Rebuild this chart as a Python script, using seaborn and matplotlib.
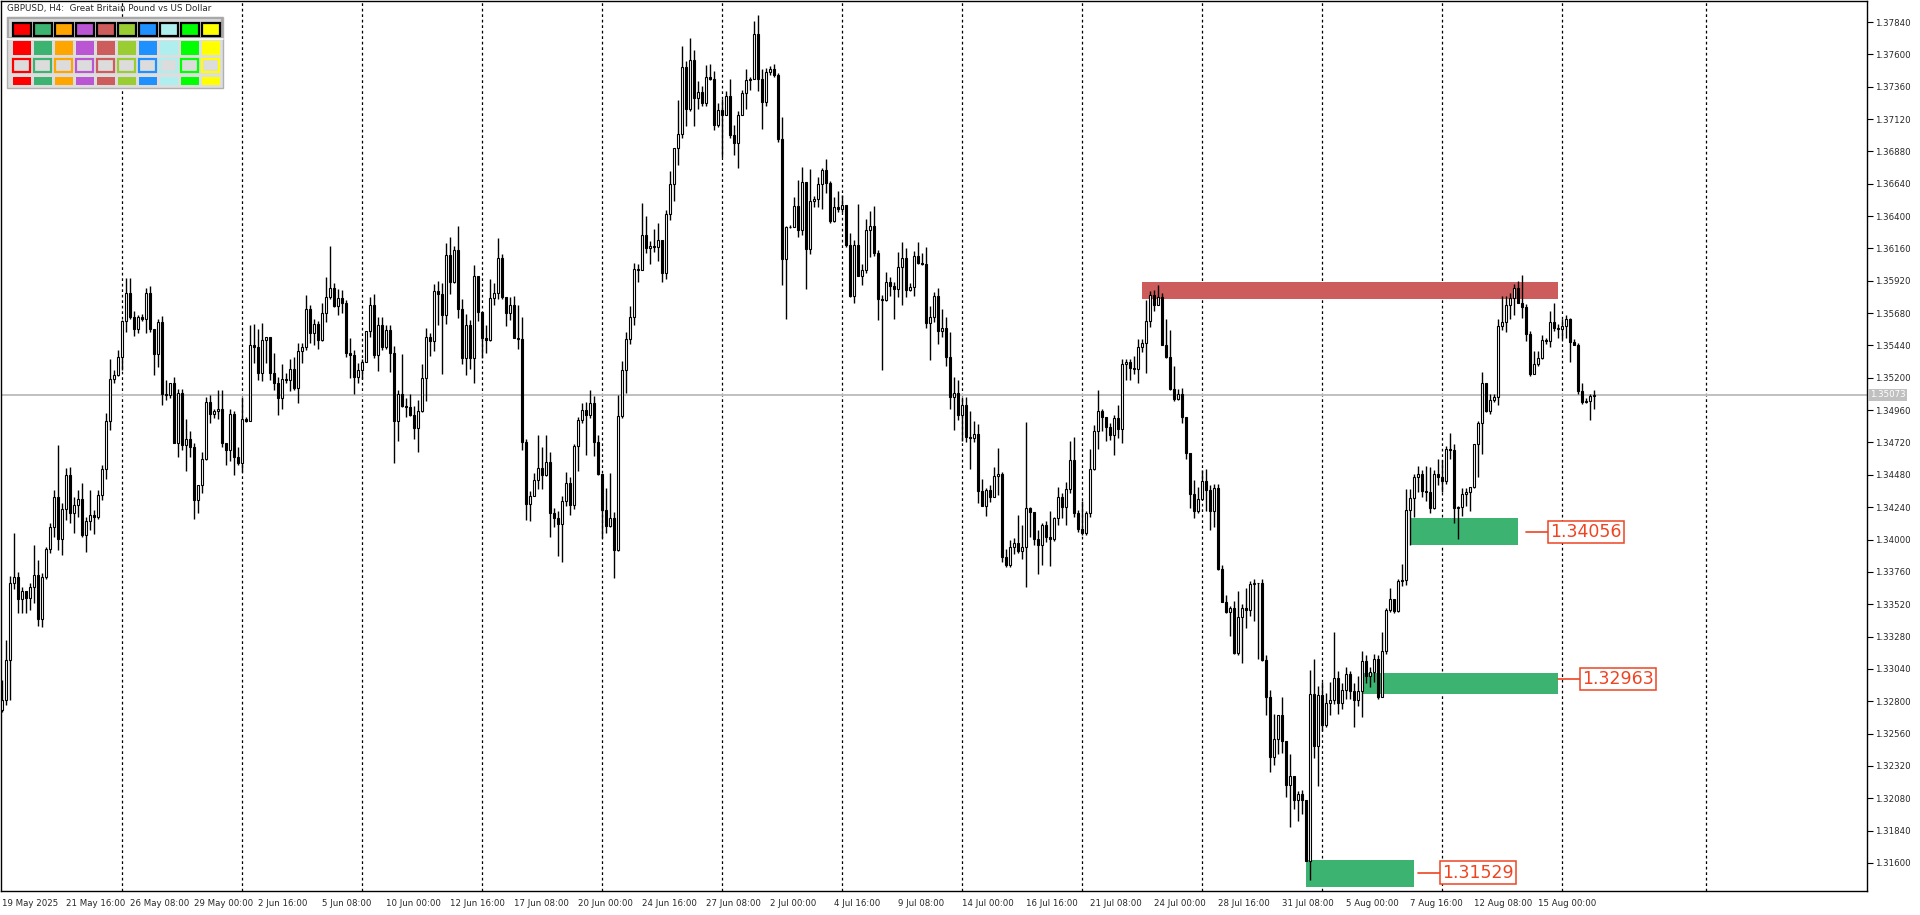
import matplotlib
matplotlib.use('Agg')
import matplotlib.pyplot as plt
from matplotlib.patches import Rectangle
import matplotlib.transforms as mtransforms
import numpy as np
import seaborn as sns

# GBPUSD H4 candles (index 0 = 19 May 2025 00:00)
first_open = 1.32735
closes = [
    1.32809, 1.33106, 1.33677, 1.33722, 1.33558, 1.33618, 1.33566, 1.33647, 1.33736, 1.33410,
    1.33722, 1.33929, 1.34093, 1.34315, 1.34004, 1.34226, 1.34478, 1.34197, 1.34256, 1.34300,
    1.34033, 1.34137, 1.34182, 1.34167, 1.34330, 1.34523, 1.34879, 1.35191, 1.35220, 1.35354,
    1.35621, 1.35829, 1.35651, 1.35562, 1.35651, 1.35636, 1.35829, 1.35562, 1.35376, 1.35614,
    1.35080, 1.35072, 1.35161, 1.34716, 1.35087, 1.34701, 1.34746, 1.34686, 1.34293, 1.34404,
    1.34597, 1.35020, 1.34931, 1.34953, 1.34968, 1.34716, 1.34664, 1.34931, 1.34612, 1.34568,
    1.34894, 1.34880, 1.35443, 1.35428, 1.35235, 1.35480, 1.35500, 1.35235, 1.35161, 1.35050,
    1.35191, 1.35183, 1.35265, 1.35124, 1.35399, 1.35428, 1.35710, 1.35532, 1.35599, 1.35480,
    1.35681, 1.35799, 1.35866, 1.35732, 1.35792, 1.35755, 1.35384, 1.35369, 1.35206, 1.35258,
    1.35317, 1.35547, 1.35740, 1.35369, 1.35591, 1.35428, 1.35554, 1.35384, 1.34879, 1.35080,
    1.34990, 1.34985, 1.34924, 1.34827, 1.34953, 1.35198, 1.35502, 1.35473, 1.35844, 1.35822,
    1.35666, 1.36111, 1.35911, 1.36148, 1.35710, 1.35347, 1.35591, 1.35347, 1.35955, 1.35688,
    1.35495, 1.35480, 1.35792, 1.35829, 1.36089, 1.35799, 1.35681, 1.35740, 1.35495, 1.35488,
    1.34723, 1.34263, 1.34323, 1.34441, 1.34530, 1.34478, 1.34575, 1.34197, 1.34159, 1.34115,
    1.34286, 1.34419, 1.34256, 1.34694, 1.34887, 1.34961, 1.34924, 1.35013, 1.34723, 1.34486,
    1.34219, 1.34100, 1.34159, 1.33922, 1.34916, 1.35258, 1.35488, 1.35651, 1.36007, 1.36000,
    1.36259, 1.36163, 1.36178, 1.36170, 1.36222, 1.35977, 1.36415, 1.36638, 1.36905, 1.37009,
    1.37506, 1.37194, 1.37558, 1.37276, 1.37320, 1.37239, 1.37432, 1.37417, 1.37075, 1.37187,
    1.37150, 1.37291, 1.37001, 1.36942, 1.37150, 1.37313, 1.37409, 1.37417, 1.37751, 1.37417,
    1.37246, 1.37469, 1.37491, 1.37446, 1.36972, 1.36081, 1.36319, 1.36319, 1.36474, 1.36296,
    1.36653, 1.36155, 1.36512, 1.36526, 1.36638, 1.36742, 1.36645, 1.36363, 1.36467, 1.36452,
    1.36482, 1.36185, 1.35807, 1.36185, 1.35955, 1.36000, 1.36296, 1.36326, 1.36126, 1.35784,
    1.35780, 1.35911, 1.35881, 1.35859, 1.36022, 1.36089, 1.35851, 1.35873, 1.36103, 1.36052,
    1.36045, 1.35606, 1.35651, 1.35807, 1.35547, 1.35569, 1.35354, 1.35057, 1.35087, 1.34924,
    1.34998, 1.34760, 1.34755, 1.34783, 1.34360, 1.34248, 1.34367, 1.34315, 1.34471, 1.34486,
    1.33870, 1.33811, 1.33944, 1.33974, 1.33915, 1.33944, 1.34234, 1.34204, 1.34004, 1.33959,
    1.34107, 1.34018, 1.34004, 1.34159, 1.34315, 1.34241, 1.34375, 1.34590, 1.34197, 1.34078,
    1.34048, 1.34197, 1.34523, 1.34805, 1.34953, 1.34909, 1.34835, 1.34775, 1.34901, 1.34820,
    1.35302, 1.35317, 1.35272, 1.35265, 1.35428, 1.35458, 1.35621, 1.35814, 1.35740, 1.35799,
    1.35443, 1.35354, 1.35117, 1.35042, 1.35080, 1.34909, 1.34642, 1.34338, 1.34211, 1.34300,
    1.34434, 1.34367, 1.34211, 1.34382, 1.33781, 1.33536, 1.33462, 1.33492, 1.33158, 1.33425,
    1.33492, 1.33477, 1.33670, 1.33675, 1.33677, 1.33106, 1.32831, 1.32386, 1.32520, 1.32698,
    1.32505, 1.32178, 1.32245, 1.32067, 1.32112, 1.32067, 1.31614, 1.32854, 1.32468, 1.32846,
    1.32623, 1.32787, 1.32809, 1.32972, 1.32787, 1.32883, 1.33002, 1.32876, 1.32809, 1.32876,
    1.33098, 1.32987, 1.33017, 1.33113, 1.32831, 1.33173, 1.33477, 1.33558, 1.33469, 1.33692,
    1.33699, 1.34219, 1.34308, 1.34464, 1.34486, 1.34360, 1.34352, 1.34234, 1.34486, 1.34464,
    1.34434, 1.34671, 1.34664, 1.34234, 1.34241, 1.34338, 1.34352, 1.34389, 1.34709, 1.34864,
    1.35161, 1.34953, 1.35035, 1.35057, 1.35584, 1.35614, 1.35740, 1.35792, 1.35866, 1.35755,
    1.35725, 1.35525, 1.35228, 1.35302, 1.35347, 1.35480, 1.35473, 1.35614, 1.35569, 1.35562,
    1.35584, 1.35636, 1.35465, 1.35443, 1.35102, 1.35020, 1.35028, 1.35065, 1.35073,
]
highs = [
    1.32957, 1.33254, 1.33729, 1.34048, 1.33759, 1.33647, 1.33618, 1.33677, 1.33959, 1.33848,
    1.33751, 1.33944, 1.34122, 1.34367, 1.34701, 1.34271, 1.34530, 1.34538, 1.34315, 1.34367,
    1.34419, 1.34167, 1.34367, 1.34219, 1.34367, 1.34553, 1.34939, 1.35339, 1.35258, 1.35406,
    1.35629, 1.35940, 1.35940, 1.35695, 1.35666, 1.35673, 1.35866, 1.35881, 1.35562, 1.35636,
    1.35658, 1.35183, 1.35161, 1.35206, 1.35117, 1.35117, 1.34894, 1.34805, 1.34716, 1.34404,
    1.34649, 1.35057, 1.35072, 1.34968, 1.35109, 1.35109, 1.34716, 1.34968, 1.34953, 1.34686,
    1.35057, 1.34909, 1.35591, 1.35599, 1.35562, 1.35606, 1.35502, 1.35502, 1.35384, 1.35206,
    1.35302, 1.35235, 1.35339, 1.35354, 1.35458, 1.35458, 1.35814, 1.35740, 1.35636, 1.35621,
    1.35755, 1.35948, 1.36178, 1.35903, 1.35859, 1.35851, 1.35777, 1.35495, 1.35406, 1.35310,
    1.35339, 1.35547, 1.35799, 1.35822, 1.35651, 1.35651, 1.35591, 1.35591, 1.35436, 1.35109,
    1.35376, 1.35050, 1.35080, 1.34990, 1.35035, 1.35302, 1.35569, 1.35532, 1.35896, 1.35918,
    1.35903, 1.36200, 1.36244, 1.36178, 1.36326, 1.35784, 1.35673, 1.35629, 1.36037, 1.35955,
    1.35643, 1.35591, 1.35933, 1.35903, 1.36237, 1.36118, 1.35799, 1.35799, 1.35807, 1.35740,
    1.35651, 1.34746, 1.34360, 1.34493, 1.34775, 1.34686, 1.34775, 1.34649, 1.34234, 1.34211,
    1.34323, 1.34501, 1.34464, 1.34709, 1.34909, 1.35013, 1.35020, 1.35109, 1.35065, 1.34775,
    1.34338, 1.34382, 1.34493, 1.34204, 1.35072, 1.35324, 1.35540, 1.35732, 1.36052, 1.36044,
    1.36497, 1.36400, 1.36215, 1.36304, 1.36348, 1.36222, 1.36445, 1.36734, 1.36905, 1.37261,
    1.37662, 1.37550, 1.37721, 1.37632, 1.37402, 1.37365, 1.37521, 1.37528, 1.37476, 1.37239,
    1.37268, 1.37328, 1.37417, 1.37075, 1.37179, 1.37335, 1.37491, 1.37432, 1.37847, 1.37892,
    1.37491, 1.37498, 1.37513, 1.37528, 1.37461, 1.37135, 1.36326, 1.36333, 1.36541, 1.36667,
    1.36764, 1.36653, 1.36749, 1.36549, 1.36690, 1.36756, 1.36823, 1.36660, 1.36541, 1.36586,
    1.36556, 1.36482, 1.36274, 1.36222, 1.36489, 1.36044, 1.36378, 1.36437, 1.36474, 1.36148,
    1.35814, 1.35985, 1.35948, 1.35911, 1.36133, 1.36207, 1.36163, 1.35903, 1.36141, 1.36207,
    1.36126, 1.36170, 1.35732, 1.35836, 1.35866, 1.35710, 1.35651, 1.35540, 1.35206, 1.35183,
    1.35057, 1.35057, 1.34953, 1.34879, 1.34857, 1.34449, 1.34382, 1.34404, 1.34538, 1.34679,
    1.34501, 1.33929, 1.33996, 1.34011, 1.34182, 1.34107, 1.34872, 1.34241, 1.34182, 1.34070,
    1.34122, 1.34137, 1.34211, 1.34167, 1.34389, 1.34345, 1.34427, 1.34731, 1.34760, 1.34219,
    1.34286, 1.34211, 1.34671, 1.34849, 1.35109, 1.34968, 1.34849, 1.34864, 1.34924, 1.34998,
    1.35339, 1.35339, 1.35339, 1.35361, 1.35488, 1.35488, 1.35777, 1.35844, 1.35851, 1.35888,
    1.35829, 1.35636, 1.35554, 1.35287, 1.35117, 1.35124, 1.34909, 1.34642, 1.34441, 1.34389,
    1.34516, 1.34523, 1.34404, 1.34412, 1.34412, 1.33811, 1.33588, 1.33506, 1.33544, 1.33618,
    1.33521, 1.33640, 1.33692, 1.33707, 1.33618, 1.33707, 1.33143, 1.32883, 1.32705, 1.32698,
    1.32831, 1.32505, 1.32408, 1.32245, 1.32134, 1.32141, 1.32008, 1.33032, 1.33113, 1.32913,
    1.32943, 1.32861, 1.32943, 1.33314, 1.33024, 1.32935, 1.33054, 1.33024, 1.32935, 1.32987,
    1.33173, 1.33143, 1.33054, 1.33150, 1.33143, 1.33314, 1.33492, 1.33640, 1.33551, 1.33707,
    1.33818, 1.34375, 1.34375, 1.34486, 1.34545, 1.34516, 1.34545, 1.34538, 1.34516, 1.34597,
    1.34590, 1.34694, 1.34790, 1.34709, 1.34248, 1.34382, 1.34382, 1.34389, 1.34709, 1.34879,
    1.35243, 1.35161, 1.35080, 1.35080, 1.35636, 1.35807, 1.35807, 1.35829, 1.35896, 1.35918,
    1.35962, 1.35747, 1.35547, 1.35399, 1.35399, 1.35517, 1.35495, 1.35695, 1.35755, 1.35599,
    1.35636, 1.35666, 1.35643, 1.35488, 1.35458, 1.35161, 1.35050, 1.35080, 1.35109,
]
lows = [
    1.32720, 1.32772, 1.32809, 1.33633, 1.33455, 1.33455, 1.33455, 1.33477, 1.33529, 1.33358,
    1.33351, 1.33707, 1.33900, 1.34018, 1.33922, 1.33885, 1.34145, 1.34122, 1.34048, 1.34167,
    1.34018, 1.33907, 1.34070, 1.34041, 1.34152, 1.34293, 1.34449, 1.34812, 1.35161, 1.35213,
    1.35258, 1.35540, 1.35636, 1.35510, 1.35532, 1.35621, 1.35532, 1.35540, 1.35220, 1.35280,
    1.34998, 1.35035, 1.35050, 1.34716, 1.34612, 1.34664, 1.34508, 1.34612, 1.34152, 1.34197,
    1.34345, 1.34590, 1.34864, 1.34901, 1.34894, 1.34686, 1.34553, 1.34582, 1.34478, 1.34553,
    1.34501, 1.34872, 1.34879, 1.35310, 1.35183, 1.35176, 1.35310, 1.35183, 1.35109, 1.34924,
    1.34968, 1.35161, 1.35102, 1.35109, 1.35013, 1.35310, 1.35406, 1.35458, 1.35443, 1.35413,
    1.35473, 1.35614, 1.35784, 1.35725, 1.35666, 1.35681, 1.35354, 1.35198, 1.35080, 1.35161,
    1.35191, 1.35317, 1.35502, 1.35347, 1.35250, 1.35406, 1.35413, 1.35243, 1.34568, 1.34731,
    1.34983, 1.34909, 1.34916, 1.34746, 1.34649, 1.34946, 1.35028, 1.35361, 1.35399, 1.35591,
    1.35228, 1.35599, 1.35822, 1.35903, 1.35643, 1.35302, 1.35220, 1.35265, 1.35161, 1.35621,
    1.35347, 1.35384, 1.35473, 1.35740, 1.35784, 1.35784, 1.35584, 1.35629, 1.35495, 1.35413,
    1.34664, 1.34145, 1.34137, 1.34323, 1.34375, 1.34375, 1.34471, 1.34018, 1.34093, 1.33877,
    1.33833, 1.34248, 1.34182, 1.34226, 1.34508, 1.34864, 1.34627, 1.34901, 1.34619, 1.34478,
    1.34011, 1.34048, 1.34093, 1.33714, 1.33915, 1.34901, 1.35087, 1.35451, 1.35591, 1.35911,
    1.36000, 1.36126, 1.36044, 1.36133, 1.36066, 1.35911, 1.35933, 1.36371, 1.36512, 1.36779,
    1.36979, 1.37068, 1.37179, 1.37068, 1.37194, 1.37216, 1.37216, 1.37409, 1.37038, 1.37061,
    1.36838, 1.37150, 1.36979, 1.36853, 1.36756, 1.37150, 1.37194, 1.37335, 1.37417, 1.37328,
    1.37046, 1.37216, 1.37446, 1.37432, 1.36949, 1.35888, 1.35636, 1.36311, 1.36348, 1.36244,
    1.36259, 1.35859, 1.36118, 1.36467, 1.36467, 1.36452, 1.36571, 1.36348, 1.36356, 1.36430,
    1.36430, 1.36170, 1.35799, 1.35755, 1.35955, 1.35888, 1.35977, 1.36096, 1.36103, 1.35629,
    1.35258, 1.35770, 1.35807, 1.35636, 1.35799, 1.35740, 1.35799, 1.35844, 1.35807, 1.36044,
    1.36037, 1.35569, 1.35332, 1.35614, 1.35451, 1.35502, 1.35287, 1.34968, 1.34812, 1.34887,
    1.34731, 1.34723, 1.34523, 1.34723, 1.34271, 1.34248, 1.34174, 1.34278, 1.34315, 1.34330,
    1.33833, 1.33796, 1.33796, 1.33892, 1.33900, 1.33855, 1.33647, 1.34018, 1.33959, 1.33744,
    1.33811, 1.33981, 1.33803, 1.33989, 1.34107, 1.34159, 1.34107, 1.34345, 1.34167, 1.34056,
    1.34033, 1.34033, 1.34167, 1.34516, 1.34671, 1.34805, 1.34731, 1.34738, 1.34627, 1.34753,
    1.34716, 1.35183, 1.35183, 1.35228, 1.35161, 1.35391, 1.35235, 1.35577, 1.35695, 1.35740,
    1.35443, 1.35347, 1.35109, 1.35028, 1.35035, 1.34864, 1.34597, 1.34234, 1.34159, 1.34197,
    1.34293, 1.34211, 1.34070, 1.34093, 1.33774, 1.33536, 1.33455, 1.33284, 1.33150, 1.33143,
    1.33083, 1.33343, 1.33432, 1.33395, 1.33113, 1.33098, 1.32698, 1.32275, 1.32327, 1.32408,
    1.32416, 1.32089, 1.31867, 1.32000, 1.31911, 1.31963, 1.31614, 1.31473, 1.32379, 1.32171,
    1.32579, 1.32609, 1.32698, 1.32779, 1.32705, 1.32742, 1.32816, 1.32816, 1.32609, 1.32764,
    1.32683, 1.32935, 1.32905, 1.32943, 1.32816, 1.32846, 1.33150, 1.33462, 1.33455, 1.33462,
    1.33655, 1.33662, 1.33959, 1.34167, 1.34352, 1.34315, 1.34286, 1.34197, 1.34226, 1.34404,
    1.34352, 1.34412, 1.34597, 1.34122, 1.34004, 1.34174, 1.34248, 1.34211, 1.34382, 1.34464,
    1.34634, 1.34946, 1.34931, 1.35020, 1.34998, 1.35554, 1.35540, 1.35636, 1.35666, 1.35755,
    1.35643, 1.35473, 1.35213, 1.35235, 1.35287, 1.35339, 1.35451, 1.35428, 1.35547, 1.35495,
    1.35488, 1.35495, 1.35317, 1.35443, 1.35080, 1.35005, 1.35013, 1.34887, 1.34968,
]

date_labels = ['19 May 2025', '21 May 16:00', '26 May 08:00', '29 May 00:00', '2 Jun 16:00',
               '5 Jun 08:00', '10 Jun 00:00', '12 Jun 16:00', '17 Jun 08:00', '20 Jun 00:00',
               '24 Jun 16:00', '27 Jun 08:00', '2 Jul 00:00', '4 Jul 16:00', '9 Jul 08:00',
               '14 Jul 00:00', '16 Jul 16:00', '21 Jul 08:00', '24 Jul 00:00', '28 Jul 16:00',
               '31 Jul 08:00', '5 Aug 00:00', '7 Aug 16:00', '12 Aug 08:00', '15 Aug 00:00']
week_bars = [30, 60, 90, 120, 150, 180, 210, 240, 270, 300, 330, 360, 390, 426]

current_price = 1.35073
# zones: first bar, last bar, bottom price, top price
resist_zone = (285, 389, 1.35784, 1.35911)
support_start = [352.25, 340.25, 326]
support_end = [379, 389, 353]
support_low = [1.33959, 1.32854, 1.31422]
support_high = [1.34159, 1.33009, 1.31622]
support_level = [1.34056, 1.32963, 1.31529]
label_line_start = [381, 389, 354]
label_left = [386.5, 394.5, 359.5]

palette = ['#FF0000', '#3CB371', '#FFA500', '#BA55D3', '#CD5C5C',
           '#9ACD32', '#1E90FF', '#AFEEEE', '#00FF00', '#FFFF00']

sns.set_theme(style='white')
plt.rcParams['font.family'] = ['DejaVu Sans']

opens = np.array([first_open] + closes[:-1])
closes = np.array(closes)
highs = np.array(highs)
lows = np.array(lows)
x = np.arange(len(closes))
top = np.maximum(highs, np.maximum(opens, closes))
bot = np.minimum(lows, np.minimum(opens, closes))
bull = closes >= opens

W, H = 1920, 915
fig = plt.figure(figsize=(W / 100, H / 100), dpi=100)
ax = fig.add_axes([1 / W, 24 / H, 1866 / W, 890 / H])
ax.set_xlim(-0.25, 466.25)
ax.set_ylim(1.31392, 1.37996)

orange = '#EE4422'
green = '#3CB371'
red = '#CD5C5C'

for wb in week_bars:
    ax.axvline(wb, color='black', lw=0.9, ls=(0, (2.2, 2.2)), zorder=1)
ax.axhline(current_price, color='#C0C0C0', lw=1.4, zorder=1.5)

ax.add_patch(Rectangle((resist_zone[0], resist_zone[2]), resist_zone[1] - resist_zone[0],
                       resist_zone[3] - resist_zone[2], fc=red, ec='none', zorder=2))
for s, e, lo, hi, lvl, ls, ll in zip(support_start, support_end, support_low, support_high,
                                    support_level, label_line_start, label_left):
    ax.add_patch(Rectangle((s, lo), e - s, hi - lo, fc=green, ec='none', zorder=2))
    ax.plot([ls, ll], [lvl, lvl], color=orange, lw=1.2, zorder=4)
    ax.text(ll + 0.6, lvl, f'{lvl:.5f}', ha='left', va='center', fontsize=12.5, color=orange,
            zorder=5, bbox=dict(boxstyle='square,pad=0.12', fc='white', ec=orange, lw=1.1))

ax.vlines(x, bot, top, color='black', lw=1.0, zorder=2.5)
ax.bar(x, np.abs(closes - opens), bottom=np.minimum(opens, closes), width=0.6,
       color=np.where(bull, 'white', 'black'), edgecolor='black', linewidth=0.8, zorder=3)

# axes styling like the terminal
for sp in ax.spines.values():
    sp.set_color('black')
    sp.set_linewidth(1.0)
ax.yaxis.tick_right()
yt = np.round(np.arange(1.31600, 1.37841, 0.0024), 5)
ax.set_yticks(yt, labels=[f'{v:.5f}' for v in yt], fontsize=6.2)
ax.set_xticks(np.arange(0, 16 * len(date_labels), 16), labels=date_labels, ha='left', fontsize=6.2)
ax.tick_params(axis='both', direction='out', length=4, width=0.8, color='black', pad=1.5)
ax.grid(False)

trans = mtransforms.blended_transform_factory(ax.transAxes, ax.transData)
ax.text(1.0015, current_price, f'{current_price:.5f}', transform=trans, ha='left', va='center',
        fontsize=6.2, color='white', zorder=6,
        bbox=dict(boxstyle='square,pad=0.2', fc='#C0C0C0', ec='none'))

# top-left header and colour panel (pixel overlay)
ov = fig.add_axes([0, 0, 1, 1], zorder=10)
ov.set_xlim(0, W)
ov.set_ylim(H, 0)
ov.axis('off')
ov.patch.set_alpha(0)
ov.text(7, 9, 'GBPUSD, H4:  Great Britain Pound vs US Dollar', fontsize=6.3, va='center', ha='left')
ov.add_patch(Rectangle((7, 17), 216, 71, fc='#DDDDDD', ec='#B0B0B0', lw=1))
ov.add_patch(Rectangle((8, 18), 214, 20, fc='#D6D6D6', ec='#A8A8A8', lw=1.5))
ov.plot([7, 223], [39, 39], color='white', lw=1.2)
for k, c in enumerate(palette):
    cx = 12.7 + 21 * k
    ov.add_patch(Rectangle((cx, 23), 18, 13, fc=c, ec='black', lw=1.6))
    ov.add_patch(Rectangle((cx, 41), 18, 14, fc=c, ec='none'))
    ov.add_patch(Rectangle((cx + 0.5, 58.5), 17, 13, fc='#DCDCDC', ec=c, lw=1.6))
    ov.add_patch(Rectangle((cx, 77), 18, 8, fc=c, ec='none'))

fig.savefig('out.png', dpi=100)
